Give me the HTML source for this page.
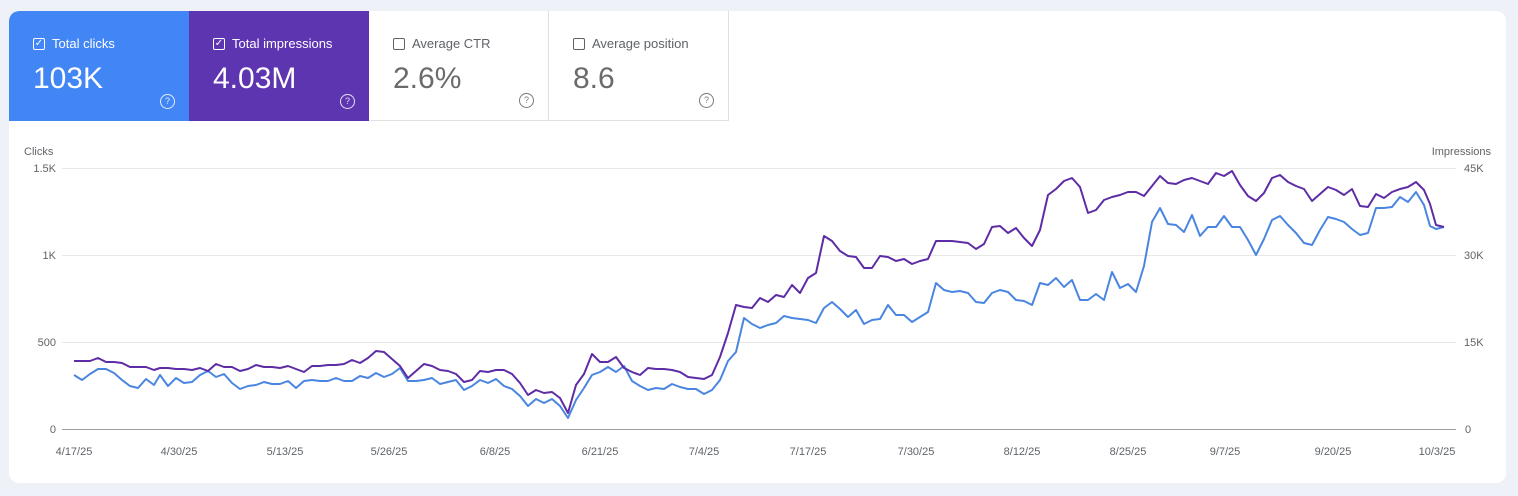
<!DOCTYPE html>
<html><head><meta charset="utf-8"><style>
body{margin:0;width:1518px;height:496px;background:#eef2f8;font-family:"Liberation Sans",sans-serif;overflow:hidden;position:relative}
.card{position:absolute;left:9px;top:11px;width:1497px;height:472px;background:#fff;border-radius:10px;overflow:hidden}
.m{position:absolute;top:0;width:180px;height:110px;box-sizing:border-box;padding:25px 0 0 24px;color:#fff}
.m .t{font-size:13px;display:flex;align-items:center}
.m .cb{width:12px;height:12px;border:1.5px solid currentColor;border-radius:2px;margin-right:7px;position:relative;box-sizing:border-box;font-size:10px;line-height:9px;text-align:center}
.m .v{font-size:30px;margin-top:11px}
.m .q{position:absolute;right:14px;bottom:12px;width:13px;height:13px;border:1.3px solid currentColor;border-radius:50%;font-size:9px;text-align:center;line-height:13px;opacity:.85}
.w{color:#5f6368;border-right:1px solid #e0e0e0;border-bottom:1px solid #e0e0e0}
.w .v{color:#6b6b6b}
</style></head><body>
<div class="card">
<div class="m" style="left:0;background:#4285f4;border-top-left-radius:10px"><div class="t"><span class="cb">✓</span>Total clicks</div><div class="v">103K</div><div class="q">?</div></div>
<div class="m" style="left:180px;background:#5e35b1"><div class="t"><span class="cb">✓</span>Total impressions</div><div class="v">4.03M</div><div class="q">?</div></div>
<div class="m w" style="left:360px"><div class="t"><span class="cb"></span>Average CTR</div><div class="v">2.6%</div><div class="q">?</div></div>
<div class="m w" style="left:540px"><div class="t"><span class="cb"></span>Average position</div><div class="v">8.6</div><div class="q">?</div></div>
</div>
<svg width="1518" height="496" style="position:absolute;left:0;top:0" font-family="Liberation Sans, sans-serif">
<g stroke="#e8e8e8" stroke-width="1"><line x1="62" x2="1456" y1="168.5" y2="168.5"/><line x1="62" x2="1456" y1="255.5" y2="255.5"/><line x1="62" x2="1456" y1="342.5" y2="342.5"/></g>
<line x1="62" x2="1456" y1="429.5" y2="429.5" stroke="#9e9e9e"/>
<g font-size="11" fill="#5f6368">
<text x="24" y="155">Clicks</text><text x="1491" y="155" text-anchor="end">Impressions</text>
<g text-anchor="end"><text x="56" y="172">1.5K</text><text x="56" y="259">1K</text><text x="56" y="346">500</text><text x="56" y="433">0</text></g>
<text x="1464" y="172">45K</text><text x="1464" y="259">30K</text><text x="1464" y="346">15K</text><text x="1465" y="433">0</text>
<g text-anchor="middle"><text x="74" y="455">4/17/25</text><text x="179" y="455">4/30/25</text><text x="285" y="455">5/13/25</text><text x="389" y="455">5/26/25</text><text x="495" y="455">6/8/25</text><text x="600" y="455">6/21/25</text><text x="704" y="455">7/4/25</text><text x="808" y="455">7/17/25</text><text x="916" y="455">7/30/25</text><text x="1022" y="455">8/12/25</text><text x="1128" y="455">8/25/25</text><text x="1225" y="455">9/7/25</text><text x="1333" y="455">9/20/25</text><text x="1437" y="455">10/3/25</text></g>
</g>
<polyline fill="none" stroke="#4a86e0" stroke-width="2" stroke-linejoin="round" points="74,375 82,380 90,374 98,369 106,369 114,373 122,380 130,386 138,388 146,379 154,385 160,375 168,386 176,378 184,383 192,382 200,375 208,371 216,377 224,374 232,383 240,389 248,386 256,385 264,382 272,384 280,384 288,381 296,388 304,381 312,380 320,381 328,381 336,378 344,381 352,381 360,376 368,378 376,373 384,377 392,374 400,368 408,381 416,381 424,380 432,378 440,384 448,382 456,380 464,390 472,386 480,380 488,383 496,379 504,386 512,389 520,396 528,406 536,399 544,403 552,399 560,406 568,418 576,400 584,388 592,375 600,372 608,367 616,372 624,366 632,381 640,386 648,390 656,388 664,389 672,384 680,387 688,389 696,389 704,394 712,390 720,380 728,361 736,352 744,318 752,324 760,328 768,325 776,323 784,316 792,318 800,319 808,320 816,323 824,308 832,302 840,309 848,317 856,310 864,324 872,320 880,319 888,305 896,315 904,315 912,322 920,317 928,312 936,283 944,290 952,292 960,291 968,293 976,302 984,303 992,293 1000,290 1008,292 1016,300 1024,301 1032,305 1040,283 1048,285 1056,278 1064,287 1072,280 1080,300 1088,300 1096,294 1104,300 1112,272 1120,288 1128,284 1136,292 1144,266 1152,222 1160,208 1168,224 1176,225 1184,232 1192,215 1200,236 1208,227 1216,227 1224,216 1232,227 1240,227 1248,240 1256,255 1264,239 1272,220 1280,216 1288,225 1296,233 1304,243 1312,245 1320,230 1328,217 1336,219 1344,222 1352,229 1360,235 1368,233 1376,208 1384,208 1392,207 1400,197 1408,202 1416,192 1424,205 1430,226 1436,229 1444,227"/>
<polyline fill="none" stroke="#5e2ca5" stroke-width="2" stroke-linejoin="round" points="74,361 82,361 90,361 98,358 106,362 114,362 122,363 130,367 138,367 146,367 154,370 160,368 168,368 176,369 184,369 192,370 200,368 208,371 216,364 224,367 232,367 240,371 248,369 256,365 264,367 272,367 280,368 288,366 296,369 304,372 312,366 320,366 328,365 336,365 344,364 352,360 360,363 368,358 376,351 384,352 392,359 400,366 408,378 416,371 424,364 432,366 440,370 448,371 456,374 464,382 472,380 480,371 488,372 496,370 504,370 512,374 520,383 528,395 536,390 544,393 552,392 560,398 568,413 576,385 584,374 592,354 600,362 608,362 616,357 624,368 632,372 640,375 648,368 656,369 664,369 672,370 680,372 688,377 696,378 704,379 712,375 720,357 728,333 736,305 744,307 752,308 760,298 768,302 776,295 784,297 792,285 800,293 808,278 816,273 824,236 832,241 840,251 848,256 856,257 864,268 872,268 880,256 888,257 896,261 904,259 912,264 920,261 928,259 936,241 944,241 952,241 960,242 968,243 976,249 984,244 992,227 1000,226 1008,233 1016,228 1024,238 1032,246 1040,230 1048,195 1056,189 1064,181 1072,178 1080,187 1088,213 1096,210 1104,200 1112,197 1120,195 1128,192 1136,192 1144,196 1152,186 1160,176 1168,183 1176,184 1184,180 1192,178 1200,181 1208,184 1216,173 1224,176 1232,171 1240,185 1248,196 1256,201 1264,193 1272,178 1280,175 1288,182 1296,186 1304,189 1312,201 1320,194 1328,187 1336,190 1344,195 1352,189 1360,206 1368,207 1376,194 1384,198 1392,192 1400,189 1408,187 1416,182 1424,190 1430,204 1436,225 1444,227"/>
</svg>
</body></html>
